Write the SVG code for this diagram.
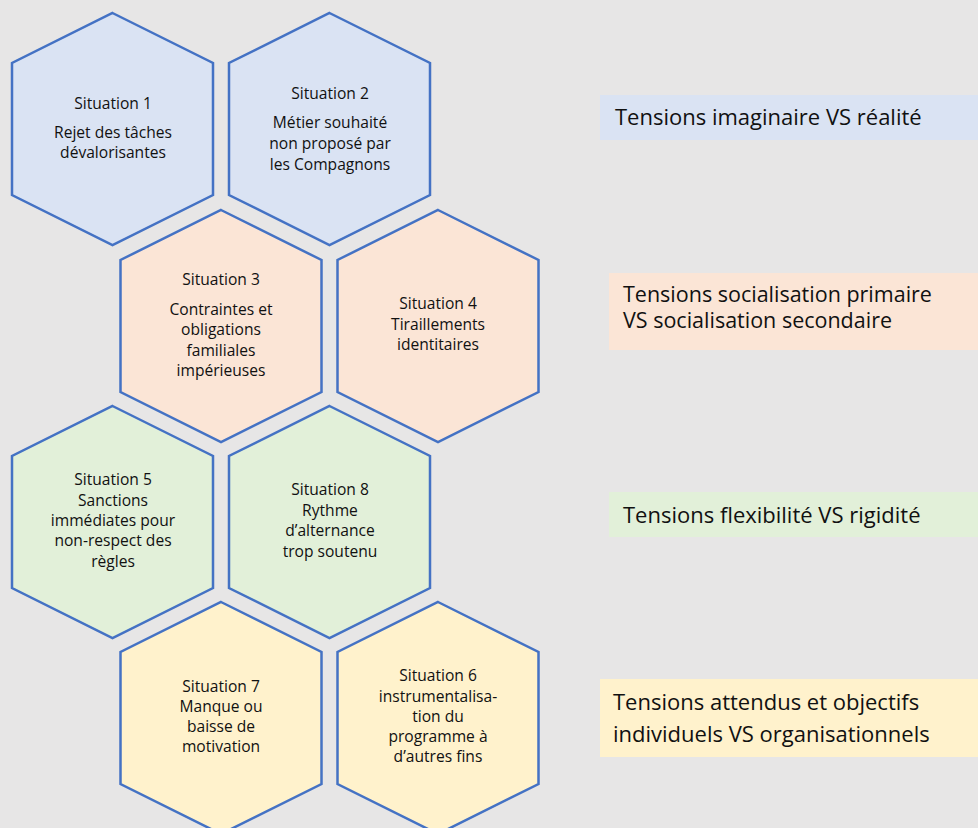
<svg xmlns="http://www.w3.org/2000/svg" width="978" height="828" viewBox="0 0 978 828">
<style>
.hex{stroke:#4472C4;stroke-width:2.5;stroke-linejoin:miter}
.b{fill:#DAE3F3}.o{fill:#FBE5D6}.g{fill:#E2F0D9}.y{fill:#FFF2CC}
.t{font-family:"Open Sans","Liberation Sans",sans-serif;font-size:15.6px;fill:#111;text-anchor:middle}
.l{font-family:"Open Sans","Liberation Sans",sans-serif;font-size:22px;fill:#111}
.l2{font-size:21.5px}
</style>
<defs>
<polygon id="hx" points="100.5,0 201,50 201,182 100.5,232 0,182 0,50"/>
</defs>
<rect width="978" height="828" fill="#E7E6E6"/>
<g id="connectors"/>
<g id="s1"><use href="#hx" x="12" y="13" class="hex b"/>
<text class="t" x="113"><tspan x="113" y="109">Situation 1</tspan><tspan x="113" y="138">Rejet des tâches</tspan><tspan x="113" y="158">dévalorisantes</tspan></text></g>
<g id="s2"><use href="#hx" x="229" y="13" class="hex b"/>
<text class="t"><tspan x="330" y="99">Situation 2</tspan><tspan x="330" y="128">Métier souhaité</tspan><tspan x="330" y="149">non proposé par</tspan><tspan x="330" y="170">les Compagnons</tspan></text></g>
<g id="s3"><use href="#hx" x="120.5" y="210" class="hex o"/>
<text class="t"><tspan x="221" y="285">Situation 3</tspan><tspan x="221" y="315">Contraintes et</tspan><tspan x="221" y="335">obligations</tspan><tspan x="221" y="356">familiales</tspan><tspan x="221" y="376">impérieuses</tspan></text></g>
<g id="s4"><use href="#hx" x="337.5" y="210" class="hex o"/>
<text class="t"><tspan x="438" y="309">Situation 4</tspan><tspan x="438" y="330">Tiraillements</tspan><tspan x="438" y="350">identitaires</tspan></text></g>
<g id="s5"><use href="#hx" x="12" y="406" class="hex g"/>
<text class="t"><tspan x="113" y="485">Situation 5</tspan><tspan x="113" y="506">Sanctions</tspan><tspan x="113" y="526">immédiates pour</tspan><tspan x="113" y="546">non-respect des</tspan><tspan x="113" y="567">règles</tspan></text></g>
<g id="s8"><use href="#hx" x="229" y="406" class="hex g"/>
<text class="t"><tspan x="330" y="495">Situation 8</tspan><tspan x="330" y="516">Rythme</tspan><tspan x="330" y="536">d’alternance</tspan><tspan x="330" y="557">trop soutenu</tspan></text></g>
<g id="s7"><use href="#hx" x="120.5" y="602" class="hex y"/>
<text class="t"><tspan x="221" y="692">Situation 7</tspan><tspan x="221" y="712">Manque ou</tspan><tspan x="221" y="732">baisse de</tspan><tspan x="221" y="752">motivation</tspan></text></g>
<g id="s6"><use href="#hx" x="337.5" y="602" class="hex y"/>
<text class="t"><tspan x="438" y="681">Situation 6</tspan><tspan x="438" y="702">instrumentalisa-</tspan><tspan x="438" y="722">tion du</tspan><tspan x="438" y="742">programme à</tspan><tspan x="438" y="762">d’autres fins</tspan></text></g>
<g id="lab1"><rect x="600" y="95" width="378" height="45" class="b"/>
<text class="l" x="615" y="125">Tensions imaginaire VS réalité</text></g>
<g id="lab2"><rect x="609" y="273" width="369" height="77" class="o"/>
<text class="l l2"><tspan x="623" y="302">Tensions socialisation primaire</tspan><tspan x="623" y="328">VS socialisation secondaire</tspan></text></g>
<g id="lab3"><rect x="609" y="492" width="369" height="45" class="g"/>
<text class="l" x="623" y="523">Tensions flexibilité VS rigidité</text></g>
<g id="lab4"><rect x="600" y="679" width="378" height="78" class="y"/>
<text class="l"><tspan x="613" y="710">Tensions attendus et objectifs</tspan><tspan x="613" y="742">individuels VS organisationnels</tspan></text></g>
</svg>
